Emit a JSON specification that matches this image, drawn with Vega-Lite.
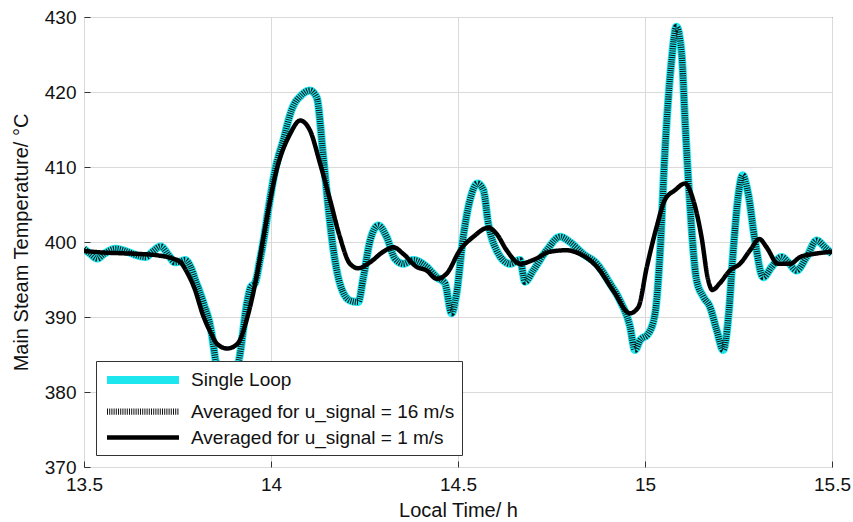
{
  "$schema": "https://vega.github.io/schema/vega-lite/v6.json",
  "width": 748,
  "height": 450,
  "autosize": {"type": "none"},
  "padding": {"left": 84, "top": 17, "right": 21, "bottom": 55},
  "background": "white",
  "config": {
    "font": "Liberation Sans",
    "view": {"stroke": "#3a3a3a", "strokeWidth": 1},
    "axis": {
      "labelFont": "Liberation Sans", "labelFontSize": 19, "labelColor": "#111",
      "titleFont": "Liberation Sans", "titleFontSize": 20, "titleFontWeight": "normal", "titleColor": "#111",
      "gridColor": "#dadada", "gridWidth": 1, "domain": false, "ticks": true, "tickSize": -6, "tickColor": "#333", "tickWidth": 1
    },
    "legend": {
      "orient": "bottom-left", "offset": 12, "labelFont": "Liberation Sans", "labelFontSize": 19, "labelColor": "#111",
      "symbolType": "M-1,0H8", "symbolSize": 256, "strokeColor": "#333", "fillColor": "white",
      "padding": 7, "labelOffset": 64, "labelLimit": 400, "rowPadding": 3
    }
  },
  "data": {"values": [
    {"s": "Single Loop", "t": 13.500, "v": 399.1},
    {"s": "Single Loop", "t": 13.515, "v": 398.5},
    {"s": "Single Loop", "t": 13.536, "v": 397.8},
    {"s": "Single Loop", "t": 13.553, "v": 398.4},
    {"s": "Single Loop", "t": 13.585, "v": 399.1},
    {"s": "Single Loop", "t": 13.616, "v": 398.7},
    {"s": "Single Loop", "t": 13.643, "v": 398.2},
    {"s": "Single Loop", "t": 13.665, "v": 398.0},
    {"s": "Single Loop", "t": 13.683, "v": 398.7},
    {"s": "Single Loop", "t": 13.705, "v": 399.4},
    {"s": "Single Loop", "t": 13.727, "v": 398.2},
    {"s": "Single Loop", "t": 13.742, "v": 397.3},
    {"s": "Single Loop", "t": 13.758, "v": 397.4},
    {"s": "Single Loop", "t": 13.770, "v": 397.6},
    {"s": "Single Loop", "t": 13.785, "v": 396.7},
    {"s": "Single Loop", "t": 13.798, "v": 394.9},
    {"s": "Single Loop", "t": 13.820, "v": 391.8},
    {"s": "Single Loop", "t": 13.840, "v": 388.2},
    {"s": "Single Loop", "t": 13.852, "v": 384.2},
    {"s": "Single Loop", "t": 13.865, "v": 381.5},
    {"s": "Single Loop", "t": 13.880, "v": 380.5},
    {"s": "Single Loop", "t": 13.895, "v": 381.5},
    {"s": "Single Loop", "t": 13.914, "v": 384.2},
    {"s": "Single Loop", "t": 13.937, "v": 392.2},
    {"s": "Single Loop", "t": 13.946, "v": 394.0},
    {"s": "Single Loop", "t": 13.957, "v": 394.5},
    {"s": "Single Loop", "t": 13.970, "v": 397.5},
    {"s": "Single Loop", "t": 13.980, "v": 400.2},
    {"s": "Single Loop", "t": 13.995, "v": 405.0},
    {"s": "Single Loop", "t": 14.011, "v": 409.6},
    {"s": "Single Loop", "t": 14.033, "v": 413.6},
    {"s": "Single Loop", "t": 14.055, "v": 417.6},
    {"s": "Single Loop", "t": 14.082, "v": 419.6},
    {"s": "Single Loop", "t": 14.104, "v": 420.2},
    {"s": "Single Loop", "t": 14.122, "v": 419.3},
    {"s": "Single Loop", "t": 14.140, "v": 411.3},
    {"s": "Single Loop", "t": 14.153, "v": 404.7},
    {"s": "Single Loop", "t": 14.167, "v": 398.9},
    {"s": "Single Loop", "t": 14.184, "v": 394.5},
    {"s": "Single Loop", "t": 14.211, "v": 392.2},
    {"s": "Single Loop", "t": 14.233, "v": 392.0},
    {"s": "Single Loop", "t": 14.247, "v": 395.3},
    {"s": "Single Loop", "t": 14.265, "v": 400.2},
    {"s": "Single Loop", "t": 14.287, "v": 402.2},
    {"s": "Single Loop", "t": 14.309, "v": 400.7},
    {"s": "Single Loop", "t": 14.331, "v": 397.8},
    {"s": "Single Loop", "t": 14.354, "v": 397.1},
    {"s": "Single Loop", "t": 14.380, "v": 397.6},
    {"s": "Single Loop", "t": 14.416, "v": 396.7},
    {"s": "Single Loop", "t": 14.443, "v": 395.3},
    {"s": "Single Loop", "t": 14.465, "v": 394.5},
    {"s": "Single Loop", "t": 14.483, "v": 390.5},
    {"s": "Single Loop", "t": 14.496, "v": 393.1},
    {"s": "Single Loop", "t": 14.514, "v": 400.7},
    {"s": "Single Loop", "t": 14.532, "v": 405.6},
    {"s": "Single Loop", "t": 14.552, "v": 407.8},
    {"s": "Single Loop", "t": 14.568, "v": 406.9},
    {"s": "Single Loop", "t": 14.581, "v": 402.5},
    {"s": "Single Loop", "t": 14.603, "v": 398.9},
    {"s": "Single Loop", "t": 14.639, "v": 397.1},
    {"s": "Single Loop", "t": 14.666, "v": 397.6},
    {"s": "Single Loop", "t": 14.679, "v": 394.7},
    {"s": "Single Loop", "t": 14.701, "v": 396.2},
    {"s": "Single Loop", "t": 14.737, "v": 398.9},
    {"s": "Single Loop", "t": 14.773, "v": 400.7},
    {"s": "Single Loop", "t": 14.799, "v": 400.0},
    {"s": "Single Loop", "t": 14.835, "v": 398.4},
    {"s": "Single Loop", "t": 14.871, "v": 397.1},
    {"s": "Single Loop", "t": 14.906, "v": 394.5},
    {"s": "Single Loop", "t": 14.933, "v": 392.2},
    {"s": "Single Loop", "t": 14.960, "v": 388.7},
    {"s": "Single Loop", "t": 14.973, "v": 385.6},
    {"s": "Single Loop", "t": 14.987, "v": 386.9},
    {"s": "Single Loop", "t": 15.009, "v": 387.8},
    {"s": "Single Loop", "t": 15.027, "v": 390.5},
    {"s": "Single Loop", "t": 15.040, "v": 398.4},
    {"s": "Single Loop", "t": 15.053, "v": 411.8},
    {"s": "Single Loop", "t": 15.071, "v": 424.2},
    {"s": "Single Loop", "t": 15.084, "v": 428.7},
    {"s": "Single Loop", "t": 15.098, "v": 425.1},
    {"s": "Single Loop", "t": 15.107, "v": 416.2},
    {"s": "Single Loop", "t": 15.120, "v": 405.1},
    {"s": "Single Loop", "t": 15.138, "v": 394.9},
    {"s": "Single Loop", "t": 15.156, "v": 392.7},
    {"s": "Single Loop", "t": 15.174, "v": 391.3},
    {"s": "Single Loop", "t": 15.192, "v": 388.2},
    {"s": "Single Loop", "t": 15.209, "v": 385.6},
    {"s": "Single Loop", "t": 15.223, "v": 390.0},
    {"s": "Single Loop", "t": 15.236, "v": 398.9},
    {"s": "Single Loop", "t": 15.250, "v": 406.4},
    {"s": "Single Loop", "t": 15.261, "v": 408.9},
    {"s": "Single Loop", "t": 15.276, "v": 406.4},
    {"s": "Single Loop", "t": 15.294, "v": 400.2},
    {"s": "Single Loop", "t": 15.316, "v": 395.3},
    {"s": "Single Loop", "t": 15.339, "v": 396.7},
    {"s": "Single Loop", "t": 15.365, "v": 398.0},
    {"s": "Single Loop", "t": 15.383, "v": 397.3},
    {"s": "Single Loop", "t": 15.405, "v": 396.2},
    {"s": "Single Loop", "t": 15.432, "v": 398.0},
    {"s": "Single Loop", "t": 15.459, "v": 400.2},
    {"s": "Single Loop", "t": 15.481, "v": 399.3},
    {"s": "Single Loop", "t": 15.500, "v": 398.4},

    {"s": "Averaged for u_signal = 16 m/s", "t": 13.500, "v": 399.1},
    {"s": "Averaged for u_signal = 16 m/s", "t": 13.515, "v": 398.5},
    {"s": "Averaged for u_signal = 16 m/s", "t": 13.536, "v": 397.8},
    {"s": "Averaged for u_signal = 16 m/s", "t": 13.553, "v": 398.4},
    {"s": "Averaged for u_signal = 16 m/s", "t": 13.585, "v": 399.1},
    {"s": "Averaged for u_signal = 16 m/s", "t": 13.616, "v": 398.7},
    {"s": "Averaged for u_signal = 16 m/s", "t": 13.643, "v": 398.2},
    {"s": "Averaged for u_signal = 16 m/s", "t": 13.665, "v": 398.0},
    {"s": "Averaged for u_signal = 16 m/s", "t": 13.683, "v": 398.7},
    {"s": "Averaged for u_signal = 16 m/s", "t": 13.705, "v": 399.4},
    {"s": "Averaged for u_signal = 16 m/s", "t": 13.727, "v": 398.2},
    {"s": "Averaged for u_signal = 16 m/s", "t": 13.742, "v": 397.3},
    {"s": "Averaged for u_signal = 16 m/s", "t": 13.758, "v": 397.4},
    {"s": "Averaged for u_signal = 16 m/s", "t": 13.770, "v": 397.6},
    {"s": "Averaged for u_signal = 16 m/s", "t": 13.785, "v": 396.7},
    {"s": "Averaged for u_signal = 16 m/s", "t": 13.798, "v": 394.9},
    {"s": "Averaged for u_signal = 16 m/s", "t": 13.820, "v": 391.8},
    {"s": "Averaged for u_signal = 16 m/s", "t": 13.840, "v": 388.2},
    {"s": "Averaged for u_signal = 16 m/s", "t": 13.852, "v": 384.2},
    {"s": "Averaged for u_signal = 16 m/s", "t": 13.865, "v": 381.5},
    {"s": "Averaged for u_signal = 16 m/s", "t": 13.880, "v": 380.5},
    {"s": "Averaged for u_signal = 16 m/s", "t": 13.895, "v": 381.5},
    {"s": "Averaged for u_signal = 16 m/s", "t": 13.914, "v": 384.2},
    {"s": "Averaged for u_signal = 16 m/s", "t": 13.937, "v": 392.2},
    {"s": "Averaged for u_signal = 16 m/s", "t": 13.946, "v": 394.0},
    {"s": "Averaged for u_signal = 16 m/s", "t": 13.957, "v": 394.5},
    {"s": "Averaged for u_signal = 16 m/s", "t": 13.970, "v": 397.5},
    {"s": "Averaged for u_signal = 16 m/s", "t": 13.980, "v": 400.2},
    {"s": "Averaged for u_signal = 16 m/s", "t": 13.995, "v": 405.0},
    {"s": "Averaged for u_signal = 16 m/s", "t": 14.011, "v": 409.6},
    {"s": "Averaged for u_signal = 16 m/s", "t": 14.033, "v": 413.6},
    {"s": "Averaged for u_signal = 16 m/s", "t": 14.055, "v": 417.6},
    {"s": "Averaged for u_signal = 16 m/s", "t": 14.082, "v": 419.6},
    {"s": "Averaged for u_signal = 16 m/s", "t": 14.104, "v": 420.2},
    {"s": "Averaged for u_signal = 16 m/s", "t": 14.122, "v": 419.3},
    {"s": "Averaged for u_signal = 16 m/s", "t": 14.140, "v": 411.3},
    {"s": "Averaged for u_signal = 16 m/s", "t": 14.153, "v": 404.7},
    {"s": "Averaged for u_signal = 16 m/s", "t": 14.167, "v": 398.9},
    {"s": "Averaged for u_signal = 16 m/s", "t": 14.184, "v": 394.5},
    {"s": "Averaged for u_signal = 16 m/s", "t": 14.211, "v": 392.2},
    {"s": "Averaged for u_signal = 16 m/s", "t": 14.233, "v": 392.0},
    {"s": "Averaged for u_signal = 16 m/s", "t": 14.247, "v": 395.3},
    {"s": "Averaged for u_signal = 16 m/s", "t": 14.265, "v": 400.2},
    {"s": "Averaged for u_signal = 16 m/s", "t": 14.287, "v": 402.2},
    {"s": "Averaged for u_signal = 16 m/s", "t": 14.309, "v": 400.7},
    {"s": "Averaged for u_signal = 16 m/s", "t": 14.331, "v": 397.8},
    {"s": "Averaged for u_signal = 16 m/s", "t": 14.354, "v": 397.1},
    {"s": "Averaged for u_signal = 16 m/s", "t": 14.380, "v": 397.6},
    {"s": "Averaged for u_signal = 16 m/s", "t": 14.416, "v": 396.7},
    {"s": "Averaged for u_signal = 16 m/s", "t": 14.443, "v": 395.3},
    {"s": "Averaged for u_signal = 16 m/s", "t": 14.465, "v": 394.5},
    {"s": "Averaged for u_signal = 16 m/s", "t": 14.483, "v": 390.5},
    {"s": "Averaged for u_signal = 16 m/s", "t": 14.496, "v": 393.1},
    {"s": "Averaged for u_signal = 16 m/s", "t": 14.514, "v": 400.7},
    {"s": "Averaged for u_signal = 16 m/s", "t": 14.532, "v": 405.6},
    {"s": "Averaged for u_signal = 16 m/s", "t": 14.552, "v": 407.8},
    {"s": "Averaged for u_signal = 16 m/s", "t": 14.568, "v": 406.9},
    {"s": "Averaged for u_signal = 16 m/s", "t": 14.581, "v": 402.5},
    {"s": "Averaged for u_signal = 16 m/s", "t": 14.603, "v": 398.9},
    {"s": "Averaged for u_signal = 16 m/s", "t": 14.639, "v": 397.1},
    {"s": "Averaged for u_signal = 16 m/s", "t": 14.666, "v": 397.6},
    {"s": "Averaged for u_signal = 16 m/s", "t": 14.679, "v": 394.7},
    {"s": "Averaged for u_signal = 16 m/s", "t": 14.701, "v": 396.2},
    {"s": "Averaged for u_signal = 16 m/s", "t": 14.737, "v": 398.9},
    {"s": "Averaged for u_signal = 16 m/s", "t": 14.773, "v": 400.7},
    {"s": "Averaged for u_signal = 16 m/s", "t": 14.799, "v": 400.0},
    {"s": "Averaged for u_signal = 16 m/s", "t": 14.835, "v": 398.4},
    {"s": "Averaged for u_signal = 16 m/s", "t": 14.871, "v": 397.1},
    {"s": "Averaged for u_signal = 16 m/s", "t": 14.906, "v": 394.5},
    {"s": "Averaged for u_signal = 16 m/s", "t": 14.933, "v": 392.2},
    {"s": "Averaged for u_signal = 16 m/s", "t": 14.960, "v": 388.7},
    {"s": "Averaged for u_signal = 16 m/s", "t": 14.973, "v": 385.6},
    {"s": "Averaged for u_signal = 16 m/s", "t": 14.987, "v": 386.9},
    {"s": "Averaged for u_signal = 16 m/s", "t": 15.009, "v": 387.8},
    {"s": "Averaged for u_signal = 16 m/s", "t": 15.027, "v": 390.5},
    {"s": "Averaged for u_signal = 16 m/s", "t": 15.040, "v": 398.4},
    {"s": "Averaged for u_signal = 16 m/s", "t": 15.053, "v": 411.8},
    {"s": "Averaged for u_signal = 16 m/s", "t": 15.071, "v": 424.2},
    {"s": "Averaged for u_signal = 16 m/s", "t": 15.084, "v": 428.7},
    {"s": "Averaged for u_signal = 16 m/s", "t": 15.098, "v": 425.1},
    {"s": "Averaged for u_signal = 16 m/s", "t": 15.107, "v": 416.2},
    {"s": "Averaged for u_signal = 16 m/s", "t": 15.120, "v": 405.1},
    {"s": "Averaged for u_signal = 16 m/s", "t": 15.138, "v": 394.9},
    {"s": "Averaged for u_signal = 16 m/s", "t": 15.156, "v": 392.7},
    {"s": "Averaged for u_signal = 16 m/s", "t": 15.174, "v": 391.3},
    {"s": "Averaged for u_signal = 16 m/s", "t": 15.192, "v": 388.2},
    {"s": "Averaged for u_signal = 16 m/s", "t": 15.209, "v": 385.6},
    {"s": "Averaged for u_signal = 16 m/s", "t": 15.223, "v": 390.0},
    {"s": "Averaged for u_signal = 16 m/s", "t": 15.236, "v": 398.9},
    {"s": "Averaged for u_signal = 16 m/s", "t": 15.250, "v": 406.4},
    {"s": "Averaged for u_signal = 16 m/s", "t": 15.261, "v": 408.9},
    {"s": "Averaged for u_signal = 16 m/s", "t": 15.276, "v": 406.4},
    {"s": "Averaged for u_signal = 16 m/s", "t": 15.294, "v": 400.2},
    {"s": "Averaged for u_signal = 16 m/s", "t": 15.316, "v": 395.3},
    {"s": "Averaged for u_signal = 16 m/s", "t": 15.339, "v": 396.7},
    {"s": "Averaged for u_signal = 16 m/s", "t": 15.365, "v": 398.0},
    {"s": "Averaged for u_signal = 16 m/s", "t": 15.383, "v": 397.3},
    {"s": "Averaged for u_signal = 16 m/s", "t": 15.405, "v": 396.2},
    {"s": "Averaged for u_signal = 16 m/s", "t": 15.432, "v": 398.0},
    {"s": "Averaged for u_signal = 16 m/s", "t": 15.459, "v": 400.2},
    {"s": "Averaged for u_signal = 16 m/s", "t": 15.481, "v": 399.3},
    {"s": "Averaged for u_signal = 16 m/s", "t": 15.500, "v": 398.4},

    {"s": "Averaged for u_signal = 1 m/s", "t": 13.500, "v": 398.8},
    {"s": "Averaged for u_signal = 1 m/s", "t": 13.550, "v": 398.6},
    {"s": "Averaged for u_signal = 1 m/s", "t": 13.600, "v": 398.5},
    {"s": "Averaged for u_signal = 1 m/s", "t": 13.650, "v": 398.4},
    {"s": "Averaged for u_signal = 1 m/s", "t": 13.700, "v": 398.2},
    {"s": "Averaged for u_signal = 1 m/s", "t": 13.730, "v": 397.9},
    {"s": "Averaged for u_signal = 1 m/s", "t": 13.758, "v": 397.3},
    {"s": "Averaged for u_signal = 1 m/s", "t": 13.775, "v": 396.0},
    {"s": "Averaged for u_signal = 1 m/s", "t": 13.794, "v": 394.0},
    {"s": "Averaged for u_signal = 1 m/s", "t": 13.820, "v": 390.0},
    {"s": "Averaged for u_signal = 1 m/s", "t": 13.840, "v": 387.8},
    {"s": "Averaged for u_signal = 1 m/s", "t": 13.856, "v": 386.4},
    {"s": "Averaged for u_signal = 1 m/s", "t": 13.883, "v": 385.8},
    {"s": "Averaged for u_signal = 1 m/s", "t": 13.910, "v": 386.4},
    {"s": "Averaged for u_signal = 1 m/s", "t": 13.937, "v": 390.0},
    {"s": "Averaged for u_signal = 1 m/s", "t": 13.963, "v": 395.8},
    {"s": "Averaged for u_signal = 1 m/s", "t": 13.980, "v": 400.7},
    {"s": "Averaged for u_signal = 1 m/s", "t": 14.015, "v": 409.6},
    {"s": "Averaged for u_signal = 1 m/s", "t": 14.051, "v": 414.4},
    {"s": "Averaged for u_signal = 1 m/s", "t": 14.078, "v": 416.2},
    {"s": "Averaged for u_signal = 1 m/s", "t": 14.104, "v": 414.9},
    {"s": "Averaged for u_signal = 1 m/s", "t": 14.131, "v": 410.5},
    {"s": "Averaged for u_signal = 1 m/s", "t": 14.158, "v": 405.6},
    {"s": "Averaged for u_signal = 1 m/s", "t": 14.184, "v": 400.7},
    {"s": "Averaged for u_signal = 1 m/s", "t": 14.211, "v": 397.1},
    {"s": "Averaged for u_signal = 1 m/s", "t": 14.233, "v": 396.5},
    {"s": "Averaged for u_signal = 1 m/s", "t": 14.265, "v": 397.3},
    {"s": "Averaged for u_signal = 1 m/s", "t": 14.300, "v": 398.7},
    {"s": "Averaged for u_signal = 1 m/s", "t": 14.327, "v": 399.3},
    {"s": "Averaged for u_signal = 1 m/s", "t": 14.354, "v": 398.4},
    {"s": "Averaged for u_signal = 1 m/s", "t": 14.389, "v": 396.7},
    {"s": "Averaged for u_signal = 1 m/s", "t": 14.416, "v": 396.2},
    {"s": "Averaged for u_signal = 1 m/s", "t": 14.443, "v": 395.1},
    {"s": "Averaged for u_signal = 1 m/s", "t": 14.470, "v": 395.8},
    {"s": "Averaged for u_signal = 1 m/s", "t": 14.505, "v": 398.9},
    {"s": "Averaged for u_signal = 1 m/s", "t": 14.541, "v": 400.7},
    {"s": "Averaged for u_signal = 1 m/s", "t": 14.581, "v": 401.9},
    {"s": "Averaged for u_signal = 1 m/s", "t": 14.603, "v": 401.1},
    {"s": "Averaged for u_signal = 1 m/s", "t": 14.630, "v": 398.9},
    {"s": "Averaged for u_signal = 1 m/s", "t": 14.666, "v": 397.1},
    {"s": "Averaged for u_signal = 1 m/s", "t": 14.701, "v": 397.6},
    {"s": "Averaged for u_signal = 1 m/s", "t": 14.746, "v": 398.7},
    {"s": "Averaged for u_signal = 1 m/s", "t": 14.790, "v": 398.9},
    {"s": "Averaged for u_signal = 1 m/s", "t": 14.826, "v": 398.4},
    {"s": "Averaged for u_signal = 1 m/s", "t": 14.871, "v": 396.7},
    {"s": "Averaged for u_signal = 1 m/s", "t": 14.915, "v": 393.5},
    {"s": "Averaged for u_signal = 1 m/s", "t": 14.960, "v": 390.5},
    {"s": "Averaged for u_signal = 1 m/s", "t": 14.982, "v": 391.3},
    {"s": "Averaged for u_signal = 1 m/s", "t": 15.005, "v": 396.7},
    {"s": "Averaged for u_signal = 1 m/s", "t": 15.031, "v": 402.0},
    {"s": "Averaged for u_signal = 1 m/s", "t": 15.053, "v": 405.6},
    {"s": "Averaged for u_signal = 1 m/s", "t": 15.080, "v": 406.9},
    {"s": "Averaged for u_signal = 1 m/s", "t": 15.107, "v": 407.8},
    {"s": "Averaged for u_signal = 1 m/s", "t": 15.129, "v": 405.6},
    {"s": "Averaged for u_signal = 1 m/s", "t": 15.151, "v": 400.7},
    {"s": "Averaged for u_signal = 1 m/s", "t": 15.169, "v": 394.9},
    {"s": "Averaged for u_signal = 1 m/s", "t": 15.180, "v": 393.6},
    {"s": "Averaged for u_signal = 1 m/s", "t": 15.200, "v": 394.5},
    {"s": "Averaged for u_signal = 1 m/s", "t": 15.227, "v": 396.2},
    {"s": "Averaged for u_signal = 1 m/s", "t": 15.254, "v": 397.1},
    {"s": "Averaged for u_signal = 1 m/s", "t": 15.281, "v": 398.9},
    {"s": "Averaged for u_signal = 1 m/s", "t": 15.306, "v": 400.4},
    {"s": "Averaged for u_signal = 1 m/s", "t": 15.325, "v": 399.3},
    {"s": "Averaged for u_signal = 1 m/s", "t": 15.356, "v": 397.1},
    {"s": "Averaged for u_signal = 1 m/s", "t": 15.388, "v": 397.1},
    {"s": "Averaged for u_signal = 1 m/s", "t": 15.415, "v": 398.0},
    {"s": "Averaged for u_signal = 1 m/s", "t": 15.450, "v": 398.4},
    {"s": "Averaged for u_signal = 1 m/s", "t": 15.500, "v": 398.7}
  ]},
  "encoding": {
    "x": {"field": "t", "type": "quantitative", "title": "Local Time/ h",
      "scale": {"domain": [13.5, 15.5], "nice": false},
      "axis": {"values": [13.5, 14, 14.5, 15, 15.5], "labelExpr": "'' + datum.value", "labelOverlap": false, "labelFlush": false, "labelPadding": 14, "titlePadding": 6}},
    "y": {"field": "v", "type": "quantitative", "title": "Main Steam Temperature/ °C",
      "scale": {"domain": [370, 430], "nice": false},
      "axis": {"values": [370, 380, 390, 400, 410, 420, 430], "labelOverlap": false, "labelFlush": false, "labelPadding": 14, "titlePadding": 13}},
    "color": {"field": "s", "type": "nominal", "title": null,
      "scale": {"domain": ["Single Loop", "Averaged for u_signal = 16 m/s", "Averaged for u_signal = 1 m/s"], "range": ["#1ee6ee", "#111111", "#000000"]}},
    "strokeDash": {"field": "s", "type": "nominal", "title": null,
      "scale": {"domain": ["Single Loop", "Averaged for u_signal = 16 m/s", "Averaged for u_signal = 1 m/s"], "range": [[1, 0], [1, 1.2], [1, 0]]}},
    "strokeWidth": {"field": "s", "type": "nominal", "title": null,
      "scale": {"domain": ["Single Loop", "Averaged for u_signal = 16 m/s", "Averaged for u_signal = 1 m/s"], "range": [8, 4.5, 5]}}
  },
  "layer": [
    {"transform": [{"filter": "datum.s === 'Single Loop'"}], "mark": {"type": "line", "interpolate": "monotone", "clip": true}},
    {"transform": [{"filter": "datum.s === 'Averaged for u_signal = 16 m/s'"}], "mark": {"type": "line", "interpolate": "monotone", "clip": true}},
    {"transform": [{"filter": "datum.s === 'Averaged for u_signal = 1 m/s'"}], "mark": {"type": "line", "interpolate": "monotone", "clip": true}}
  ]
}
